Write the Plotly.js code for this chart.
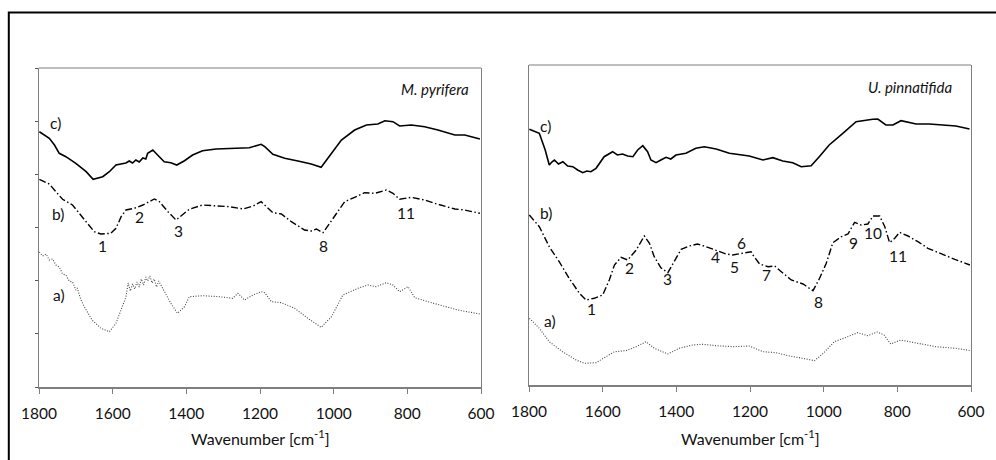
<!DOCTYPE html>
<html>
<head>
<meta charset="utf-8">
<script src="https://cdn.plot.ly/plotly-3.0.1.min.js"></script>
<style>
html,body{margin:0;padding:0;background:#fff;}
#chart{width:996px;height:460px;}
</style>
</head>
<body>
<div id="chart"></div>
<script>
// ---------- M. pyrifera (left panel) ----------
const mpWaveC = [1799,1772,1758,1745,1727,1700,1672,1653,1627,1609,1591,1564,1555,1546,1537,1528,1518,1510,1505,1491,1478,1460,1442,1426,1405,1383,1356,1319,1265,1229,1197,1187,1165,1133,1097,1061,1034,1006,979,943,911,880,861,839,821,789,753,717,671,644,603];
const mpC     = [255.3,248.7,242,233.7,230.3,223.7,215.3,207.7,210.3,215.3,222,224,226,224,227,225,229,228,233.7,237,232,225.3,224.3,222,226.3,232,236.3,238,238.7,239.3,242.7,240.3,232.7,228.7,226,223,219.7,233.7,247,257,262,263,266.3,265.3,261,262,260.3,257,252,252,248];

const mpWaveB = [1799,1772,1754,1736,1709,1691,1668,1650,1632,1605,1591,1577,1564,1541,1518,1487,1473,1450,1428,1410,1392,1356,1319,1283,1246,1219,1197,1187,1165,1142,1115,1079,1061,1047,1029,1011,988,970,943,916,888,857,839,821,789,753,717,671,644,603];
const mpB     = [207.7,203,195.3,187.7,182,173.7,163.7,155.3,153,153.7,158.7,170.3,177,178.7,182,188,185.3,175.3,167,172,177.7,182,181,180.3,178,181,185.3,182,174.3,173,165.3,157,156,158,154.3,163.7,175.3,185.3,189.7,194.3,193.7,197,193.7,187.7,189.7,187,182.7,178,177,173.7];

const mpWaveA = [1799,1790,1781,1772,1763,1754,1745,1736,1727,1718,1709,1700,1696,1687,1678,1656,1632,1609,1591,1577,1564,1558,1552,1546,1540,1534,1528,1522,1516,1510,1505,1499,1493,1487,1481,1475,1469,1460,1442,1424,1405,1392,1356,1310,1274,1260,1242,1219,1197,1187,1169,1142,1106,1070,1034,1006,975,934,907,885,857,839,821,798,780,744,699,663,603];
const mpA     = [135,131,133,127,128,122,120,113,112,106,105,97,99,88,81,67,58.7,55.3,63.7,77,90,104,96,103,98,105,100,108,102,110,106,111,104,108,100,106,102,95.3,83.7,73.7,80.3,90.3,91.3,90.3,88.7,93.7,87,92,95.3,94.3,85.3,84.3,78.7,68.7,59.7,70.3,92,98.7,102,100.3,104.3,102,95.3,100.3,89.3,85.3,80.3,77,73];

// ---------- U. pinnatifida (right panel) ----------
const upWaveC = [1799,1772,1756,1745,1738,1731,1720,1708,1695,1681,1668,1654,1643,1632,1618,1596,1573,1560,1546,1532,1518,1505,1491,1478,1469,1455,1442,1428,1415,1401,1374,1347,1324,1292,1256,1202,1165,1138,1111,1084,1061,1034,1012,985,948,912,867,853,831,812,790,749,713,677,641,604];
const upC     = [255.7,251.7,235,220,223,225,221,223.3,219,218.3,215,212.3,214,213.3,216.7,228.3,233.3,230,231,229,228.3,235,239.3,233.3,225,222.3,225,227.7,226,230,231.7,236.7,238.3,236,231.7,229,225,227.3,224,222.3,218.3,219.3,228.3,240,251.7,263.3,265.7,266,260,260,264.3,261,261,260,259,256];

const upWaveB = [1799,1772,1745,1718,1691,1663,1645,1623,1600,1582,1568,1550,1532,1509,1487,1473,1460,1442,1423,1405,1387,1365,1342,1319,1292,1265,1247,1220,1197,1192,1174,1151,1133,1115,1088,1056,1029,1011,993,975,952,934,916,898,880,866,848,834,821,807,794,771,744,717,681,644,603];
const upB     = [170,158.3,138.3,123.3,106.7,91.7,85,86.7,90,105,120,127.7,125,135,149,141.7,128.3,117.3,112.3,123.3,135.7,139,141,138.3,134.3,131,130,131.7,133.3,130,121,118.3,119,113.3,105,101,94.3,106.7,121.7,142.3,148.3,151,162.7,160,161,169,169,158.3,142.3,146.7,152.7,149,143.3,136.7,131,125.7,120];

const upWaveA = [1799,1772,1745,1709,1672,1650,1618,1591,1568,1537,1509,1482,1460,1423,1392,1356,1329,1292,1247,1202,1165,1129,1093,1057,1025,1003,971,939,908,881,854,836,818,791,750,696,641,600];
const upA     = [66.7,56.7,43.3,33.3,25,21.7,22.3,28.3,33.3,34.3,38.3,43.3,36.7,31,36.7,40,40.7,39.3,38.3,39,33.3,32.3,29,26.7,24.3,31,43.3,47.7,52.3,49.3,53,50,41,45,42.3,38.3,36.7,34.3];

const xTickVals = [1800,1600,1400,1200,1000,800,600];
const spectrumLabels = ['a)','b)','c)'];
const mpLabelWave = [1747,1749,1754];
const mpLabelY    = [92,173,264];
const upLabelWave = [1743,1754,1754];
const upLabelY    = [64.3,171.7,259];
const mpBandNames = ['1','2','3','8','11'];
const mpBandWave  = [1627,1528,1421,1027,804];
const mpBandY     = [141,169.7,156.3,141,173.7];
const upBandNames = ['1','2','3','4','5','6','7','8','9','10','11'];
const upBandWave  = [1629,1528,1425,1295,1243,1223,1155,1014,919,867,799];
const upBandY     = [75.7,116.7,105.7,127.7,118.3,142.3,110,82.7,142.3,152.3,129];
const axisTitle = 'Wavenumber [cm<sup>-1</sup>]';

const FONT = 'Lato, Open Sans, sans-serif';

function tr(x, y, dash, w, col, xa, ya) {
  return {x: x, y: y, type: 'scatter', mode: 'lines', xaxis: xa, yaxis: ya,
    line: {color: col, width: w, dash: dash}, hoverinfo: 'skip', showlegend: false};
}

const DOTS = '1px,1.6px';
const DASHDOT = '7px,2.5px,1.5px,2.5px';
const data = [
  tr(mpWaveA, mpA, DOTS, 1.1, '#444', 'x', 'y'),
  tr(mpWaveB, mpB, DASHDOT, 1.4, '#000', 'x', 'y'),
  tr(mpWaveC, mpC, 'solid', 1.6, '#000', 'x', 'y'),
  tr(upWaveA, upA, DOTS, 1.1, '#444', 'x2', 'y2'),
  tr(upWaveB, upB, DASHDOT, 1.4, '#000', 'x2', 'y2'),
  tr(upWaveC, upC, 'solid', 1.6, '#000', 'x2', 'y2')
];

function xax(dom) {
  return {domain: dom, range: [1800, 600], tickvals: xTickVals, ticktext: xTickVals.map(String),
    ticks: 'outside', ticklen: 5, tickwidth: 1, tickcolor: '#7f7f7f',
    showline: true, linecolor: '#7f7f7f', linewidth: 2, mirror: false,
    showgrid: false, zeroline: false, ticklabelstandoff: 6,
    tickfont: {family: FONT, size: 15.5, color: '#111'}};
}
function yax(dom, rng, ticks) {
  return {domain: dom, range: rng, showticklabels: false, showgrid: false, zeroline: false,
    showline: true, linecolor: '#7f7f7f', linewidth: 1, mirror: true,
    ticks: ticks ? 'outside' : '', ticklen: 3, tickcolor: '#555', dtick: rng[1] / 6};
}

const annotations = [];
function ann(text, x, y, xr, yr, opts) {
  annotations.push(Object.assign({text: text, x: x, y: y, xref: xr, yref: yr, showarrow: false,
    xanchor: 'center', yanchor: 'middle',
    font: {family: FONT, size: 15.5, color: '#111'}}, opts || {}));
}
spectrumLabels.forEach((t, i) => {
  ann(t, mpLabelWave[i], mpLabelY[i], 'x', 'y');
  ann(t, upLabelWave[i], upLabelY[i], 'x2', 'y2');
});
mpBandNames.forEach((t, i) => ann(t, mpBandWave[i], mpBandY[i], 'x', 'y'));
upBandNames.forEach((t, i) => ann(t, upBandWave[i], upBandY[i], 'x2', 'y2'));
ann('<i>M. pyrifera</i>', 627, 298, 'x', 'y', {xanchor: 'right', font: {family: FONT, size: 15, color: '#111'}});
ann('<i>U. pinnatifida</i>', 645, 298.3, 'x2', 'y2', {xanchor: 'right', font: {family: FONT, size: 15, color: '#111'}});
ann(axisTitle, 260 / 996, 1 - 437 / 460, 'paper', 'paper', {font: {family: FONT, size: 16, color: '#111'}});
ann(axisTitle, 750 / 996, 1 - 437 / 460, 'paper', 'paper', {font: {family: FONT, size: 16, color: '#111'}});

const shapes = [
  {type: 'rect', xref: 'paper', yref: 'paper', x0: 8.8 / 996, x1: 1.02, y0: -0.05, y1: 1 - 12.5 / 460,
    line: {color: '#000', width: 2}},
  {type: 'line', xref: 'x domain', yref: 'y domain', x0: 0, x1: 1, y0: 1, y1: 1, line: {color: '#7f7f7f', width: 1}},
  {type: 'line', xref: 'x2 domain', yref: 'y2 domain', x0: 0, x1: 1, y0: 1, y1: 1, line: {color: '#7f7f7f', width: 1}}
];

const layout = {
  width: 996, height: 460,
  margin: {l: 0, r: 0, t: 0, b: 0},
  paper_bgcolor: '#fff', plot_bgcolor: '#fff',
  showlegend: false,
  xaxis: xax([39 / 996, 481 / 996]),
  yaxis: yax([(460 - 387) / 460, (460 - 68) / 460], [0, 319], true),
  xaxis2: Object.assign(xax([529 / 996, 971 / 996]), {anchor: 'y2'}),
  yaxis2: Object.assign(yax([(460 - 385) / 460, (460 - 65) / 460], [0, 320], false), {anchor: 'x2'}),
  annotations: annotations,
  shapes: shapes
};
layout.xaxis.anchor = 'y';
layout.yaxis.anchor = 'x';

Plotly.newPlot('chart', data, layout, {staticPlot: true, displayModeBar: false});
</script>
</body>
</html>
